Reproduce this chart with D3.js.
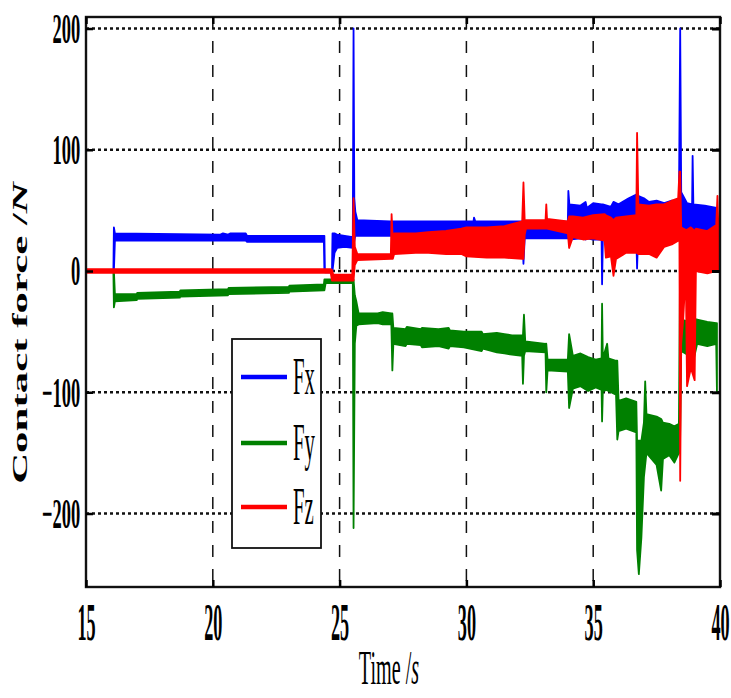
<!DOCTYPE html>
<html>
<head>
<meta charset="utf-8">
<script src="https://d3js.org/d3.v7.min.js"></script>
<style>
  body { margin: 0; background: #fff; }
  svg { display: block; }
</style>
</head>
<body>
<div id="chart"></div>
<script>
// axis ticks
const xTicks = [15, 20, 25, 30, 35, 40];
const yTicks = [-200, -100, 0, 100, 200];
const seriesNames = ["Fx", "Fy", "Fz"];
const seriesColors = ["#0000ff", "#008000", "#ff0000"];

// each row: [time (s), lower edge (N), upper edge (N)] of the noisy trace
const fx = [
  [16.08, 0, 0], [16.1, 0, 36], [16.14, 25, 31], [20.3, 25, 30], [20.4, 25, 31],
  [20.6, 25, 30], [20.7, 25, 31], [21.3, 25, 31], [21.35, 24, 29], [24.38, 24, 29],
  [24.4, 0, 29], [24.42, -1, 1], [24.7, -1, 1], [24.72, 0, 31], [24.8, 15, 31],
  [24.9, 19, 30], [25.2, 20, 29], [25.52, 19, 28], [25.55, 19, 200], [25.58, 25, 60],
  [25.62, 29, 49], [25.7, 29, 42], [27.0, 29, 41], [29.0, 30, 41], [30.28, 31, 41],
  [30.3, 31, 44], [30.35, 31, 41], [32.2, 31, 41], [32.25, 6, 41], [32.3, 27, 40],
  [34.0, 27, 41], [34.02, 27, 66], [34.06, 26, 55], [34.5, 27, 54], [34.7, 26, 57],
  [34.75, 27, 52], [35.0, 26, 56], [35.33, 26, 55], [35.35, -11, 55], [35.38, 26, 55],
  [35.7, 27, 53], [35.8, 26, 57], [36.0, 27, 55], [36.4, 28, 60], [36.7, 28, 63],
  [36.73, 2, 63], [36.77, 28, 62], [37.0, 27, 60], [37.2, 28, 57], [37.5, 26, 58],
  [37.8, 27, 56], [38.1, 27, 58], [38.38, 28, 57], [38.43, 28, 200], [38.47, 25, 65],
  [38.7, 24, 56], [38.9, 26, 55], [38.92, 26, 95], [38.95, 26, 55], [39.4, 25, 54],
  [39.86, 25, 52], [39.88, 30, 40]
];
const fy = [
  [16.08, 0, 0], [16.1, -30, 0], [16.14, -25, -19], [17.0, -24, -19], [17.02, -23, -18],
  [18.7, -22, -17], [18.72, -21, -16], [20.6, -20, -15], [20.62, -19, -14], [23.0, -18, -13],
  [23.02, -17, -12], [24.38, -16, -11], [24.4, -16, -7], [24.45, -10, -7], [25.52, -10, -7],
  [25.55, -212, -7], [25.6, -60, -20], [25.66, -45, -25], [25.75, -44, -35], [26.5, -43, -35],
  [26.7, -44, -34], [27.04, -44, -35], [27.08, -82, -35], [27.12, -60, -47], [27.6, -62, -48],
  [27.65, -60, -46], [28.2, -61, -48], [28.25, -63, -47], [28.9, -62, -48], [29.3, -64, -47],
  [29.35, -62, -49], [29.9, -63, -50], [30.6, -66, -50], [30.65, -64, -52], [31.2, -67, -51],
  [31.5, -68, -52], [31.8, -69, -53], [32.2, -70, -53], [32.23, -93, -53], [32.27, -70, -36],
  [32.32, -66, -58], [33.12, -67, -60], [33.15, -100, -60], [33.2, -82, -73], [34.0, -83, -73],
  [34.05, -113, -52], [34.2, -97, -70], [34.5, -95, -68], [34.8, -99, -71], [35.1, -96, -73],
  [35.33, -98, -72], [35.35, -124, -27], [35.38, -99, -72], [35.55, -98, -60], [35.6, -99, -72],
  [35.9, -102, -74], [35.95, -139, -74], [36.0, -132, -107], [36.3, -130, -105], [36.7, -133, -108],
  [36.73, -230, -140], [36.8, -250, -140], [36.9, -220, -140], [37.0, -170, -125], [37.05, -160, -91],
  [37.1, -150, -118], [37.3, -155, -119], [37.5, -160, -120], [37.68, -181, -122], [37.75, -155, -125],
  [38.0, -152, -126], [38.2, -158, -128], [38.38, -150, -126], [38.42, -150, -14], [38.47, -66, -40],
  [38.8, -70, -42], [38.95, -74, -40], [39.1, -60, -40], [39.5, -62, -42], [39.85, -60, -43],
  [39.88, -100, -43]
];
const fz = [
  [15.0, -1.5, 1.5], [24.65, -1.5, 1.5], [24.7, -8, 1], [24.75, -8, -3], [25.5, -8, -3],
  [25.55, -8, 60], [25.6, 5, 20], [25.7, 9, 14], [27.02, 10, 14], [27.05, 10, 47],
  [27.1, 10, 25], [27.15, 14, 31], [28.0, 15, 31], [28.5, 15, 32], [29.2, 14, 33],
  [29.8, 14, 35], [30.0, 12, 36], [30.8, 11, 36], [31.5, 11, 37], [32.2, 10, 41],
  [32.25, 10, 73], [32.3, 30, 41], [32.35, 35, 42], [33.12, 35, 42], [33.15, 35, 55],
  [33.18, 35, 43], [34.0, 31, 41], [34.05, 19, 45], [34.2, 28, 45], [34.6, 26, 44],
  [35.0, 27, 46], [35.45, 25, 47], [35.5, 11, 46], [35.7, 12, 44], [35.8, -4, 42],
  [35.9, 10, 44], [36.3, 15, 45], [36.7, 15, 46], [36.73, 15, 114], [36.78, 14, 55],
  [37.2, 14, 54], [37.5, 11, 55], [37.8, 20, 55], [38.1, 22, 58], [38.35, 25, 60],
  [38.4, 25, 82], [38.43, -173, 82], [38.47, -60, 36], [38.55, -40, 35], [38.65, 0, 34],
  [38.7, -95, 34], [38.85, -80, 36], [39.0, -90, 33], [39.05, 0, 35], [39.5, -2, 33],
  [39.85, 0, 38], [39.9, 0, 62], [39.93, 0, 40]
];

const width = 731, height = 698;
const margin = {top: 17, right: 11, bottom: 111, left: 86};
const serif = "'Liberation Serif', 'Times New Roman', serif";

const svg = d3.select("#chart").append("svg")
  .attr("width", width)
  .attr("height", height);

const x = d3.scaleLinear()
  .domain([15, 40])
  .range([margin.left, width - margin.right]);

const y = d3.scaleLinear()
  .domain([-260.6, 209.5])
  .range([height - margin.bottom, margin.top]);

// grid
svg.append("g")
  .selectAll("line")
  .data(yTicks)
  .join("line")
    .attr("x1", x(15)).attr("x2", x(40))
    .attr("y1", d => y(d)).attr("y2", d => y(d))
    .attr("stroke", "#111")
    .attr("stroke-width", 2.6)
    .attr("stroke-dasharray", "3,3");

svg.append("g")
  .selectAll("line")
  .data(xTicks.slice(1, -1))
  .join("line")
    .attr("x1", d => x(d)).attr("x2", d => x(d))
    .attr("y1", y.range()[1]).attr("y2", y.range()[0])
    .attr("stroke", "#111")
    .attr("stroke-width", 1.5)
    .attr("stroke-dasharray", "12,12");

// traces
svg.append("clipPath").attr("id", "plot")
  .append("rect")
    .attr("x", x(15)).attr("y", margin.top)
    .attr("width", x(40) - x(15))
    .attr("height", y.range()[0] - margin.top);

const band = d3.area()
  .x(d => x(d[0]))
  .y0(d => y(d[1]))
  .y1(d => y(d[2]));

[fx, fy, fz].forEach((s, i) => {
  svg.append("path")
    .datum(s)
    .attr("clip-path", "url(#plot)")
    .attr("d", band)
    .attr("fill", seriesColors[i])
    .attr("stroke", seriesColors[i])
    .attr("stroke-width", 1.8)
    .attr("stroke-linejoin", "round");
});

// frame
svg.append("rect")
  .attr("x", x(15)).attr("y", margin.top)
  .attr("width", x(40) - x(15))
  .attr("height", y.range()[0] - margin.top)
  .attr("fill", "none")
  .attr("stroke", "#111")
  .attr("stroke-width", 2.4);

// axes (ticks point inwards)
const xAxis = svg.append("g")
  .attr("transform", `translate(0,${y.range()[0]})`)
  .call(d3.axisBottom(x).tickValues(xTicks).tickSize(-7).tickPadding(0));
xAxis.select(".domain").remove();
xAxis.selectAll("line").attr("stroke-width", 2.5);
xAxis.selectAll("text")
  .attr("y", 53)
  .attr("dy", 0)
  .attr("transform", "scale(0.35,1)")
  .attr("font-family", serif)
  .attr("font-weight", "bold")
  .attr("font-size", 52)
  .attr("fill", "#000");

svg.append("g")
  .attr("transform", `translate(0,${margin.top})`)
  .call(d3.axisTop(x).tickValues(xTicks).tickSize(-7).tickFormat(""))
  .call(g => g.select(".domain").remove())
  .selectAll("line").attr("stroke-width", 2.5);

const yAxis = svg.append("g")
  .attr("transform", `translate(${margin.left},0)`)
  .call(d3.axisLeft(y).tickValues(yTicks).tickSize(-7));
yAxis.select(".domain").remove();
yAxis.selectAll("line").attr("stroke-width", 2.5);
yAxis.selectAll("text")
  .attr("x", -13)
  .attr("dy", "0.33em")
  .attr("transform", "scale(0.44,1)")
  .attr("font-family", serif)
  .attr("font-weight", "bold")
  .attr("font-size", 42)
  .attr("fill", "#000");

svg.append("g")
  .attr("transform", `translate(${x(40)},0)`)
  .call(d3.axisRight(y).tickValues(yTicks).tickSize(-8).tickFormat(""))
  .call(g => g.select(".domain").remove())
  .selectAll("line").attr("stroke-width", 3);

// axis titles
const xt = svg.append("text")
  .attr("transform", `translate(389,684) scale(0.42,1)`)
  .attr("text-anchor", "middle")
  .attr("font-family", serif)
  .attr("font-size", 48)
  .text("Time /");
xt.append("tspan").attr("font-style", "italic").text("s");

const yt = svg.append("text")
  .attr("transform", `translate(27,333) rotate(-90) scale(1.95,1)`)
  .attr("text-anchor", "middle")
  .attr("font-family", serif)
  .attr("font-weight", "bold")
  .attr("font-size", 22)
  .text("Contact force /");
yt.append("tspan").attr("font-style", "italic").text("N");

// legend
const legend = svg.append("g");
legend.append("rect")
  .attr("x", 232).attr("y", 339)
  .attr("width", 89).attr("height", 209)
  .attr("fill", "#fff")
  .attr("stroke", "#111")
  .attr("stroke-width", 1.8);

const rows = legend.selectAll("g.item")
  .data(seriesNames)
  .join("g")
    .attr("class", "item")
    .attr("transform", (d, i) => `translate(241,${[377, 443, 507][i]})`);
rows.append("line")
  .attr("x1", 0).attr("x2", 46)
  .attr("stroke", (d, i) => seriesColors[i])
  .attr("stroke-width", 4.5);
rows.append("text")
  .attr("transform", "translate(52,17) scale(0.4,1)")
  .attr("font-family", serif)
  .attr("font-size", 52)
  .text(d => d);
</script>
</body>
</html>
